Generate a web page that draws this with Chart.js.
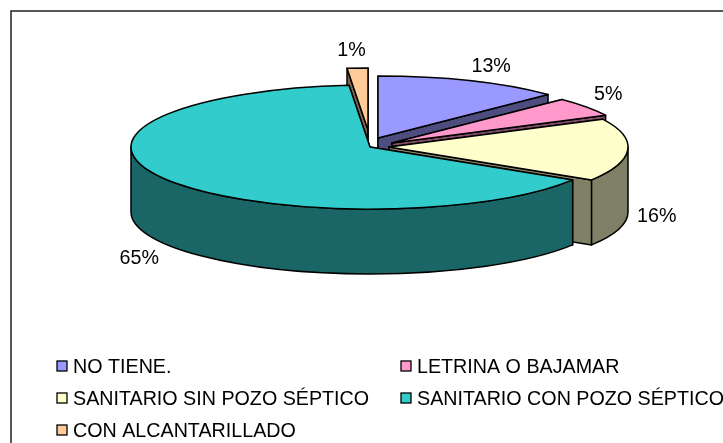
<!DOCTYPE html>
<html>
<head>
<meta charset="utf-8">
<style>
  html, body { margin: 0; padding: 0; background: #fff; overflow: hidden; }
  canvas { display: block; }
</style>
<script src="https://cdn.jsdelivr.net/npm/chart.js@4/dist/chart.umd.min.js"></script>
</head>
<body>
<canvas id="pie" width="723" height="443"></canvas>
<script>
const categories = ['NO TIENE.', 'LETRINA O BAJAMAR', 'SANITARIO SIN POZO SÉPTICO', 'SANITARIO CON POZO SÉPTICO', 'CON ALCANTARILLADO'];
const values = [12.6, 5, 16.3, 64.7, 1.4];
const topColors = ['#9999FF', '#FF99CC', '#FFFFCC', '#33CCCC', '#FFCC99'];
const sideColors = ['#4D4D80', '#804D66', '#808066', '#1A6666', '#80664D'];

// look of the fake 3D: squash of the circle, wall height, slice explosion (px)
const squash = 62 / 239;
const depth = 65;
const explode = [[8, -9], [22, -4], [19, 0], [0, 0], [-2, -17]];
const labelNudge = [[21, -14], [22, -12], [29, 67], [-27, 79], [-6, -17]];
const drawOrder = [4, 0, 1, 2, 3];
const legendCols = [57, 401];
const legendRows = [366, 398, 430];
const font = '19.7px "Liberation Sans", Arial, sans-serif';

function sectorPath(ctx, x, y, rx, ry, a0, a1) {
  ctx.beginPath();
  ctx.moveTo(x, y);
  ctx.ellipse(x, y, rx, ry, 0, a0, a1);
  ctx.closePath();
}

function drawWalls(ctx, x, y, rx, ry, a0, a1, color) {
  ctx.fillStyle = color;
  // the two cut faces
  [a0, a1].forEach(function (a) {
    const ex = x + Math.cos(a) * rx, ey = y + Math.sin(a) * ry;
    ctx.beginPath();
    ctx.moveTo(x, y);
    ctx.lineTo(ex, ey);
    ctx.lineTo(ex, ey + depth);
    ctx.lineTo(x, y + depth);
    ctx.closePath();
    ctx.fill();
    ctx.stroke();
  });
  // outer wall, only the front half of the rim shows
  const from = Math.max(a0, 0), to = Math.min(a1, Math.PI);
  if (to > from) {
    ctx.beginPath();
    ctx.ellipse(x, y, rx, ry, 0, from, to);
    ctx.lineTo(x + Math.cos(to) * rx, y + Math.sin(to) * ry + depth);
    ctx.ellipse(x, y + depth, rx, ry, 0, to, from, true);
    ctx.closePath();
    ctx.fill();
    ctx.stroke();
  }
}

const pie3d = {
  id: 'pie3d',
  beforeDatasetsDraw(chart) {
    const ctx = chart.ctx;
    const arcs = chart.getDatasetMeta(0).data;
    ctx.save();
    ctx.lineWidth = 1.5;
    ctx.strokeStyle = '#000';
    ctx.lineJoin = 'round';
    drawOrder.forEach(function (i) {
      const arc = arcs[i];
      const x = arc.x + explode[i][0], y = arc.y + explode[i][1];
      const rx = arc.outerRadius, ry = rx * squash;
      drawWalls(ctx, x, y, rx, ry, arc.startAngle, arc.endAngle, sideColors[i]);
      // top face is the library's own arc, squashed
      ctx.save();
      ctx.translate(x, y);
      ctx.scale(1, squash);
      ctx.translate(-arc.x, -arc.y);
      arc.draw(ctx);
      ctx.restore();
      sectorPath(ctx, x, y, rx, ry, arc.startAngle, arc.endAngle);
      ctx.stroke();
    });
    ctx.restore();
    return false;
  },
  afterDraw(chart) {
    const ctx = chart.ctx;
    const arcs = chart.getDatasetMeta(0).data;
    const total = values.reduce((a, b) => a + b, 0);
    ctx.save();
    // frame, cut by the picture on the right and at the bottom
    ctx.strokeStyle = '#222';
    ctx.lineWidth = 1.5;
    ctx.beginPath();
    ctx.moveTo(11, 443);
    ctx.lineTo(11, 11);
    ctx.lineTo(723, 11);
    ctx.stroke();
    // percent labels
    ctx.font = font;
    ctx.fillStyle = '#000';
    ctx.textAlign = 'center';
    ctx.textBaseline = 'middle';
    arcs.forEach(function (arc, i) {
      const mid = (arc.startAngle + arc.endAngle) / 2;
      const px = arc.x + explode[i][0] + Math.cos(mid) * arc.outerRadius + labelNudge[i][0];
      const py = arc.y + explode[i][1] + Math.sin(mid) * arc.outerRadius * squash + labelNudge[i][1];
      ctx.fillText(Math.round(values[i] / total * 100) + '%', px, py);
    });
    // legend, two columns
    ctx.textAlign = 'left';
    ctx.lineWidth = 1.3;
    ctx.strokeStyle = '#000';
    categories.forEach(function (name, i) {
      const lx = legendCols[i % 2], ly = legendRows[Math.floor(i / 2)];
      ctx.fillStyle = topColors[i];
      ctx.fillRect(lx, ly - 5, 10, 10);
      ctx.strokeRect(lx, ly - 5, 10, 10);
      ctx.fillStyle = '#000';
      ctx.fillText(name, lx + 16, ly + 2);
    });
    ctx.restore();
  }
};

new Chart('pie', {
  type: 'pie',
  data: {
    labels: categories,
    datasets: [{
      data: values,
      backgroundColor: topColors,
      borderWidth: 0,
      radius: 239
    }]
  },
  options: {
    responsive: false,
    animation: false,
    layout: { padding: { left: 17, right: 0, top: 0, bottom: 149 } },
    plugins: { legend: { display: false }, tooltip: { enabled: false } }
  },
  plugins: [pie3d]
});
</script>
</body>
</html>
